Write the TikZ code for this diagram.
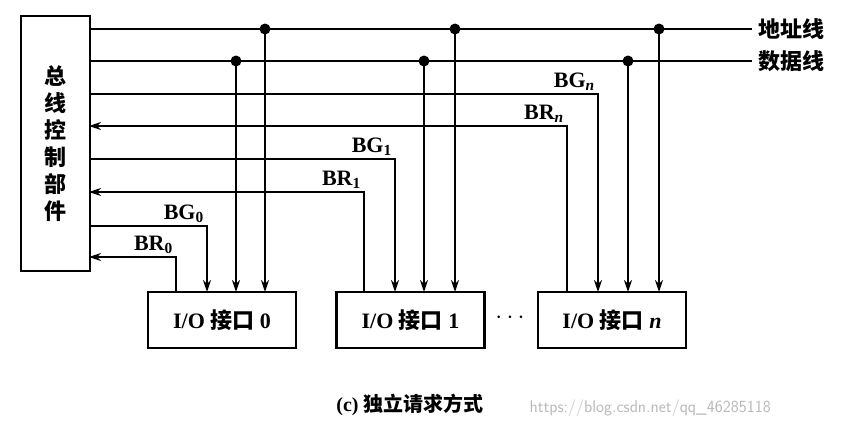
\documentclass[tikz,border=0pt]{standalone}
\usepackage{fontspec}
\setmainfont{Liberation Serif}
\newfontfamily\cjk{Noto Sans CJK SC}
\usetikzlibrary{arrows.meta}
\begin{document}
\begin{tikzpicture}[x=1pt,y=-1pt,
  ln/.style={line width=2.2pt},
  arr/.style={ln,-{Stealth[length=12pt,width=8pt]}},
  dot/.style={circle,fill,inner sep=0pt,minimum size=11pt},
  iobox/.style={draw,line width=2.2pt,minimum width=148pt,minimum height=56pt,font=\bfseries\fontsize{22}{22}\selectfont},
  lbl/.style={font=\bfseries\fontsize{22}{22}\selectfont,inner sep=1pt}]
\useasboundingbox (0,0) rectangle (846,432);
\node[draw,line width=2.2pt,minimum width=69pt,minimum height=255pt,anchor=north west] (ctl) at (20,15) {};
\node[font=\cjk\bfseries\fontsize{22}{27}\selectfont,align=center] at (ctl) {总\\线\\控\\制\\部\\件};
\node[iobox] (io0) at (222,320) {I/O {\cjk 接口} 0};
\node[iobox] (io1) at (410.5,320) {I/O {\cjk 接口} 1};
\node[iobox] (ion) at (612,320) {I/O {\cjk 接口} \textit{n}};
\node[font=\bfseries\fontsize{24}{24}\selectfont] (dots) at (510,318) {$\cdots$};
% bus lines
\coordinate (aE) at (752,29); \coordinate (dE) at (752,61);
\draw[ln] (89,29) -- (aE); \draw[ln] (89,61) -- (dE);
\node[anchor=west,font=\cjk\bfseries\fontsize{22}{22}\selectfont] (al) at (755,29) {地址线};
\node[anchor=west,font=\cjk\bfseries\fontsize{22}{22}\selectfont] (dl) at (755,61) {数据线};
\foreach \xa/\xd/\b in {265/236/io0,455/424/io1,659/628/ion}{
  \node[dot] at (\xa,29) {}; \node[dot] at (\xd,61) {};
  \draw[arr] (\xa,29) -- (\xa,292);
  \draw[arr] (\xd,61) -- (\xd,292);
}
% grant / request lines
\foreach \yg/\yr/\xg/\xr in {226/257/207/176,159/192/395/364,94/126/598/567}{
  \draw[arr] (89,\yg) -- (\xg,\yg) -- (\xg,292);
  \draw[arr] (\xr,292) -- (\xr,\yr) -- (89,\yr);
}
\node[lbl,anchor=south east] at (205,224) {BG\textsubscript{0}};
\node[lbl,anchor=south east] at (174,255) {BR\textsubscript{0}};
\node[lbl,anchor=south east] at (393,157) {BG\textsubscript{1}};
\node[lbl,anchor=south east] at (362,190) {BR\textsubscript{1}};
\node[lbl,anchor=south east] at (596,92) {BG\textsubscript{\textit{n}}};
\node[lbl,anchor=south east] at (565,124) {BR\textsubscript{\textit{n}}};
\node[font=\bfseries\fontsize{20}{20}\selectfont] (cap) at (410,405) {(c) {\cjk 独立请求方式}};
\node[anchor=west,text=gray!55,font=\sffamily\fontsize{17}{17}\selectfont] (wm) at (526,408) {https://blog.csdn.net/qq\_46285118};
\end{tikzpicture}
\end{document}
